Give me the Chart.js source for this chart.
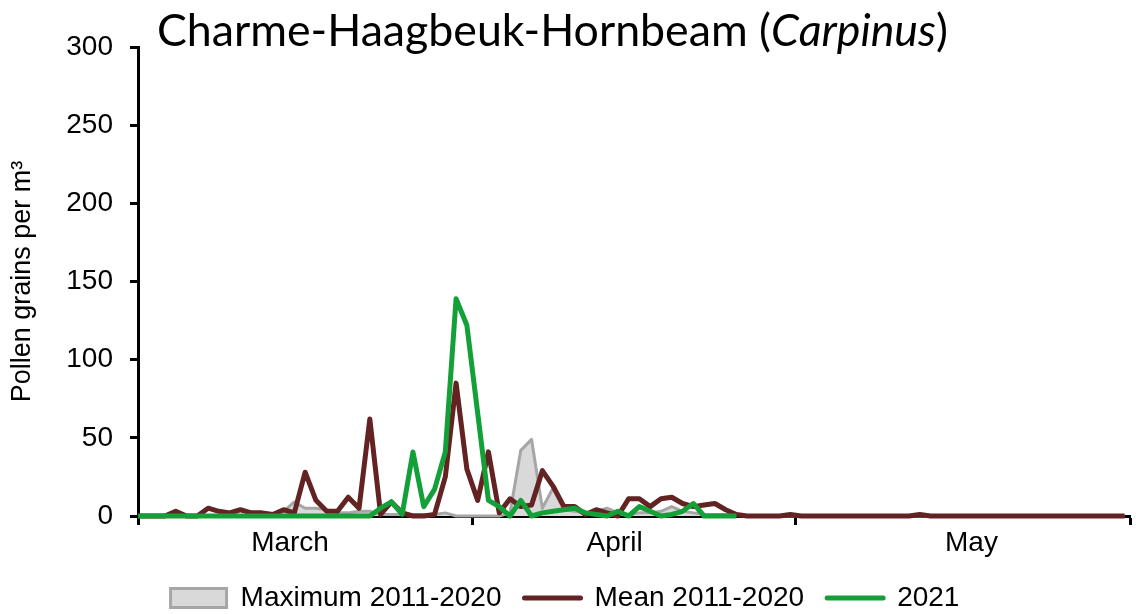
<!DOCTYPE html>
<html>
<head>
<meta charset="utf-8">
<title>Carpinus pollen</title>
<script src="https://cdn.jsdelivr.net/npm/chart.js@4.4.1/dist/chart.umd.min.js"></script>
<style>
    body { margin: 0; background: #fff; }
    .wrap { position: relative; width: 1136px; height: 614px; }
    .chart-title {
        position: absolute; left: 157px; top: 7px;
        font-family: Lato, 'Open Sans', sans-serif; font-size: 44.7px; line-height: 1;
        color: #000; white-space: nowrap;
    }
</style>
</head>
<body>
<div class="wrap">
    <canvas id="pollenChart" width="1136" height="614"></canvas>
    <div class="chart-title">Charme-Haagbeuk-Hornbeam (<i>Carpinus</i>)</div>
</div>
<script>
// ===== DATA =====
// one value per day: first entry is 28 Feb (only the start of the lines shows), then 1 Mar .. 31 May
const maxValues = [
    0,
    0, 0, 0, 0, 0, 0, 0, 0, 2, 0, 0, 0, 0, 3, 9, 5, 5, 4, 2, 2, 3, 3, 1, 1, 1, 1, 1, 1, 2, 0, 0,
    0, 0, 0, 2, 42, 49, 5, 18, 4, 3, 2, 3, 5, 2, 1, 2, 2, 3, 6, 3, 2, 1, 1, 1, 1, 0, 0, 0, 0, 0,
    0, 0, 0, 0, 0, 0, 0, 0, 0, 0, 0, 0, 0, 0, 0, 0, 0, 0, 0, 0, 0, 0, 0, 0, 0, 0, 0, 0, 0, 0, 0
];
const meanValues = [
    0,
    0, 0, 0, 3, 0, 0, 5, 3, 2, 4, 2, 2, 1, 4, 2, 28, 10, 3, 3, 12, 5, 62, 1, 9, 2, 0, 0, 1, 25, 85, 30,
    10, 41, 2, 11, 6, 7, 29, 19, 6, 6, 1, 4, 2, 0, 11, 11, 6, 11, 12, 8, 6, 7, 8, 4, 1, 0, 0, 0, 0, 1,
    0, 0, 0, 0, 0, 0, 0, 0, 0, 0, 0, 1, 0, 0, 0, 0, 0, 0, 0, 0, 0, 0, 0, 0, 0, 0, 0, 0, 0, 0, 0
];
const values2021 = [
    0,
    0, 0, 0, 0, 0, 0, 0, 0, 0, 0, 0, 0, 0, 0, 0, 0, 0, 0, 0, 0, 0, 0, 5, 9, 1, 41, 6, 17, 41, 139, 122,
    66, 10, 6, 0, 10, 0, 2, 3, 4, 5, 2, 1, 0, 3, 0, 6, 3, 0, 1, 3, 8, 0, 0, 0, 0
];

const monthNames = ['March', 'April', 'May'];
const monthStarts = [0, 31, 61, 92];      // day offsets from 1 Mar
const monthLabelAt = [14.1, 44.2, 77.3];  // where the month names sit

const fontFamily = "'Liberation Sans', Arial, sans-serif";

// ===== HELPERS =====
function toPoints(values) {
    return values.map((v, i) => ({ x: i - 0.5, y: v }));
}

function monthLabel(value) {
    const idx = monthLabelAt.indexOf(value);
    return idx > -1 ? monthNames[idx] : '';
}

const lineClip = { left: 0, top: false, right: false, bottom: false };

// ===== CHART =====
const ctx = document.getElementById('pollenChart');

new Chart(ctx, {
    type: 'line',
    data: {
        datasets: [{
            label: '2021',
            data: toPoints(values2021),
            borderColor: '#14a038',
            backgroundColor: '#14a038',
            borderWidth: 5,
            fill: false,
            clip: lineClip
        }, {
            label: 'Mean 2011-2020',
            data: toPoints(meanValues),
            borderColor: '#622322',
            backgroundColor: '#622322',
            borderWidth: 5,
            fill: false,
            clip: lineClip
        }, {
            label: 'Maximum 2011-2020',
            data: toPoints(maxValues),
            borderColor: '#a6a6a6',
            backgroundColor: '#d9d9d9',
            borderWidth: 3,
            fill: 'origin',
            clip: lineClip
        }]
    },
    options: {
        responsive: false,
        animation: false,
        devicePixelRatio: 1,
        layout: { padding: { top: 47, right: 6, bottom: 0, left: 0 } },
        elements: {
            point: { radius: 0, hoverRadius: 0 },
            line: { tension: 0, borderJoinStyle: 'round' }
        },
        scales: {
            x: {
                type: 'linear',
                min: 0,
                max: 92,
                afterBuildTicks: scale => {
                    scale.ticks = monthStarts.concat(monthLabelAt)
                        .sort((a, b) => a - b)
                        .map(v => ({ value: v }));
                },
                afterFit: scale => { scale.height = 45; },
                ticks: {
                    autoSkip: false,
                    maxRotation: 0,
                    color: '#000',
                    padding: 1,
                    font: { family: fontFamily, size: 28 },
                    callback: value => monthLabel(value)
                },
                grid: {
                    drawOnChartArea: false,
                    tickLength: 9,
                    tickWidth: 3,
                    tickColor: c => (c.tick && monthStarts.includes(c.tick.value)) ? '#000' : 'rgba(0,0,0,0)'
                },
                border: { color: '#000', width: 3 }
            },
            y: {
                min: 0,
                max: 300,
                afterFit: scale => { scale.width = 138; },
                ticks: {
                    stepSize: 50,
                    color: '#000',
                    padding: 17,
                    font: { family: fontFamily, size: 28 }
                },
                grid: {
                    drawOnChartArea: false,
                    tickLength: 8,
                    tickWidth: 3,
                    tickColor: '#000'
                },
                border: { color: '#000', width: 3 },
                title: {
                    display: true,
                    text: 'Pollen grains per m³',
                    color: '#000',
                    font: { family: fontFamily, size: 27 },
                    padding: { top: 6, bottom: 0 }
                }
            }
        },
        plugins: {
            tooltip: { enabled: false },
            legend: {
                position: 'bottom',
                reverse: true,
                maxHeight: 53,
                labels: {
                    usePointStyle: true,
                    pointStyleWidth: 56,
                    boxHeight: 19,
                    padding: 23,
                    color: '#000',
                    font: { family: fontFamily, size: 28 },
                    generateLabels: chart => chart.data.datasets.map((ds, i) => ({
                        text: ds.label,
                        datasetIndex: i,
                        fillStyle: ds.backgroundColor,
                        strokeStyle: ds.borderColor,
                        lineWidth: ds.fill ? ds.borderWidth : 5,
                        pointStyle: ds.fill ? 'rect' : 'line',
                        lineCap: 'round',
                        fontColor: '#000',
                        hidden: false
                    }))
                }
            }
        }
    }
});
</script>
</body>
</html>
